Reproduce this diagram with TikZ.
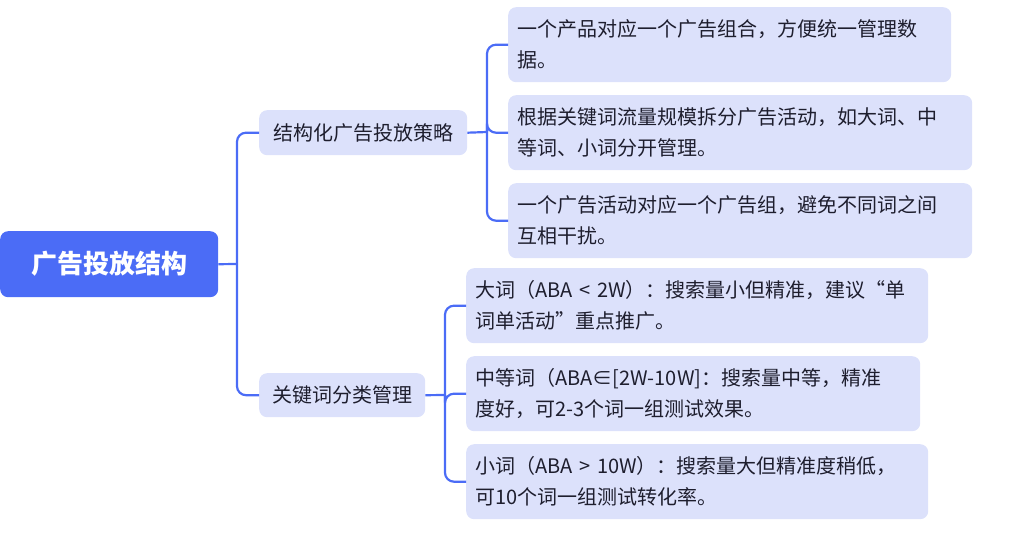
\documentclass[tikz,border=0pt]{standalone}
\usepackage{fontspec}
\setmainfont{Noto Sans CJK SC}
\definecolor{mainblue}{HTML}{4B6CF6}
\definecolor{leaffill}{HTML}{DCE1FB}
\definecolor{txt}{HTML}{1E1E2E}
\begin{document}
\begin{tikzpicture}[x=1pt,y=-1pt,
  rootbox/.style={fill=mainblue,rounded corners=8pt,text=white,font=\fontsize{26}{30}\selectfont\bfseries,anchor=north west,inner sep=0pt,align=center},
  branchbox/.style={fill=leaffill,rounded corners=8pt,text=txt,font=\fontsize{20}{24}\selectfont,anchor=north west,inner sep=0pt,align=center},
  leafbox/.style={fill=leaffill,rounded corners=8pt,text=txt,font=\fontsize{20}{31}\selectfont,anchor=north west,inner xsep=9pt,inner ysep=0pt,align=left},
  link/.style={draw=mainblue,line width=2.2pt,rounded corners=9pt}]
\useasboundingbox (0,0) rectangle (1014,541);
\node[rootbox,minimum width=218pt,minimum height=66pt] (root) at (0,231) {广告投放结构};
\node[branchbox,minimum width=208pt,minimum height=45pt] (b1) at (259,110) {结构化广告投放策略};
\node[branchbox,minimum width=166pt,minimum height=44pt] (b2) at (259,373) {关键词分类管理};
\node[leafbox,minimum width=443pt,minimum height=75pt,text width=425pt] (l1) at (508,7) {一个产品对应一个广告组合，方便统一管理数\\据。};
\node[leafbox,minimum width=464pt,minimum height=75pt,text width=446pt] (l2) at (508,95) {根据关键词流量规模拆分广告活动，如大词、中\\等词、小词分开管理。};
\node[leafbox,minimum width=464pt,minimum height=75pt,text width=446pt] (l3) at (508,183) {一个广告活动对应一个广告组，避免不同词之间\\互相干扰。};
\node[leafbox,minimum width=462pt,minimum height=75pt,text width=444pt] (l4) at (466,268) {大词（ABA < 2W）：搜索量小但精准，建议“单\\词单活动”重点推广。};
\node[leafbox,minimum width=454pt,minimum height=75pt,text width=436pt] (l5) at (466,356) {中等词（ABA∈[2W-10W]：搜索量中等，精准\\度好，可2-3个词一组测试效果。};
\node[leafbox,minimum width=462pt,minimum height=75pt,text width=444pt] (l6) at (466,444) {小词（ABA > 10W）：搜索量大但精准度稍低，\\可10个词一组测试转化率。};
\coordinate (j0) at (237,264);
\coordinate (j1) at (487,132);
\coordinate (j2) at (445,395);
\draw[link] (root.east) -- (j0);
\draw[link] (j0) |- (b1.west);
\draw[link] (j0) |- (b2.west);
\draw[link] (b1.east) -- (j1);
\draw[link] (b2.east) -- (j2);
\foreach \l in {l1,l2,l3} \draw[link] (j1) |- (\l.west);
\foreach \l in {l4,l5,l6} \draw[link] (j2) |- (\l.west);
\end{tikzpicture}
\end{document}
